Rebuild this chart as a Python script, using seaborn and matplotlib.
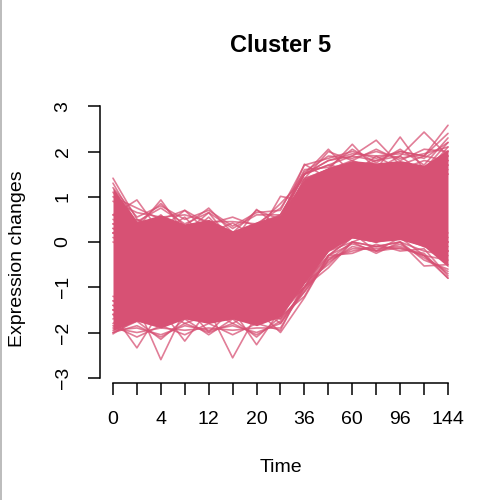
import matplotlib
matplotlib.use("Agg")
import matplotlib.pyplot as plt
from matplotlib.lines import Line2D
import pandas as pd
import numpy as np
import seaborn as sns

# time points (only every second label fits on the axis)
time_labels = ["0", "2", "4", "8", "12", "16", "20", "24",
               "36", "48", "60", "72", "96", "120", "144"]

# dense part of the cluster (solid band)
core_hi = [1.2, 0.45, 0.6, 0.4, 0.5, 0.25, 0.45, 0.6, 1.4, 1.65, 1.8, 1.75, 1.8, 1.7, 2.05]
core_lo = [-1.95, -1.75, -1.9, -1.7, -1.8, -1.7, -1.85, -1.65, -0.9, -0.2, 0.1, 0.0, 0.05, -0.1, -0.55]

# single profiles sticking out of the band
top_lines = [
    [1.41, 0.5, 0.2, 0.0, -0.1, -0.3, -0.2, 0.0, 0.8, 1.2, 1.4, 1.3, 1.5, 1.3, 1.6],
    [0.6, 0.93, 0.2, 0.55, 0.0, 0.1, -0.1, 0.3, 1.0, 1.4, 1.2, 1.5, 1.3, 1.4, 1.5],
    [0.4, 0.3, 0.93, 0.2, 0.65, 0.0, 0.3, 0.2, 1.1, 1.3, 1.5, 1.3, 1.5, 1.2, 1.7],
    [0.2, 0.5, 0.3, 0.70, 0.2, 0.42, 0.1, 0.4, 1.2, 1.5, 1.3, 1.6, 1.4, 1.6, 1.5],
    [0.5, 0.2, 0.6, 0.1, 0.55, 0.0, 0.72, 0.3, 1.3, 1.2, 1.6, 1.4, 1.7, 1.5, 1.9],
    [0.0, -0.2, 0.1, -0.1, 0.2, -0.2, 0.1, 1.01, 0.9, 1.3, 1.5, 1.4, 1.6, 1.4, 1.8],
    [0.3, 0.1, 0.4, 0.0, 0.3, 0.2, 0.2, 0.5, 1.72, 1.4, 1.6, 1.5, 1.7, 1.6, 2.0],
    [0.2, 0.0, 0.3, 0.1, 0.2, 0.0, 0.3, 0.6, 1.5, 2.05, 1.5, 1.9, 1.6, 1.8, 1.7],
    [0.1, -0.1, 0.2, 0.0, 0.1, -0.1, 0.2, 0.4, 1.4, 1.6, 2.16, 1.6, 1.9, 1.5, 2.1],
    [0.4, 0.2, 0.3, 0.1, 0.3, 0.0, 0.3, 0.5, 1.5, 1.7, 1.9, 2.25, 1.7, 1.9, 1.8],
    [0.3, 0.1, 0.2, 0.0, 0.2, 0.1, 0.2, 0.4, 1.4, 1.6, 1.8, 1.6, 2.32, 1.6, 2.2],
    [0.2, 0.0, 0.3, 0.1, 0.2, 0.0, 0.3, 0.5, 1.5, 1.7, 1.6, 1.8, 1.9, 2.43, 1.9],
    [0.6, 0.3, 0.5, 0.2, 0.4, 0.1, 0.4, 0.6, 1.5, 1.8, 1.9, 1.8, 2.0, 1.9, 2.58],
    # zigzag fringe along the upper edge
    [1.3, 0.4, 0.85, 0.35, 0.75, 0.2, 0.7, 0.5, 1.6, 1.65, 2.05, 1.75, 2.05, 1.7, 2.3],
    [1.0, 0.75, 0.5, 0.7, 0.4, 0.55, 0.35, 0.85, 1.4, 2.0, 1.8, 2.05, 1.8, 2.05, 2.0],
    [1.1, 0.45, 0.75, 0.4, 0.65, 0.3, 0.6, 0.6, 1.5, 1.8, 1.95, 1.9, 1.95, 1.85, 2.2],
    [0.9, 0.65, 0.55, 0.6, 0.45, 0.45, 0.4, 0.75, 1.55, 1.9, 1.85, 2.0, 1.85, 1.95, 2.1],
    [1.2, 0.55, 0.8, 0.5, 0.7, 0.35, 0.65, 0.7, 1.7, 1.85, 2.0, 1.85, 2.0, 1.9, 2.4],
]
bottom_lines = [
    [-2.03, -1.7, -1.5, -1.6, -1.4, -1.5, -1.4, -1.5, -0.7, -0.1, 0.2, 0.1, 0.3, 0.0, 0.2],
    [-1.6, -2.34, -1.5, -1.8, -1.6, -1.5, -1.7, -1.4, -0.8, -0.2, 0.1, 0.0, 0.2, -0.1, -0.2],
    [-1.7, -1.4, -2.6, -1.5, -1.7, -1.4, -1.6, -1.5, -0.9, 0.0, 0.2, 0.1, 0.2, 0.1, 0.0],
    [-1.5, -1.7, -1.5, -2.19, -1.5, -1.8, -1.5, -1.7, -0.8, -0.1, 0.1, 0.0, 0.3, 0.0, 0.1],
    [-1.8, -1.5, -1.8, -1.4, -1.99, -1.5, -1.7, -1.4, -0.7, 0.0, 0.3, 0.1, 0.2, 0.1, 0.0],
    [-1.4, -1.6, -1.5, -1.7, -1.5, -2.56, -1.6, -1.6, -0.9, -0.2, 0.0, 0.2, 0.1, 0.0, -0.1],
    [-1.6, -1.4, -1.7, -1.5, -1.6, -1.5, -2.27, -1.5, -1.0, -0.1, 0.2, 0.0, 0.2, 0.0, -0.2],
    [-1.5, -1.7, -1.4, -1.6, -1.4, -1.7, -1.5, -2.0, -1.23, -0.3, 0.1, 0.1, 0.2, 0.1, 0.0],
    [-1.3, -1.5, -1.6, -1.4, -1.6, -1.5, -1.4, -1.8, -1.0, -0.57, 0.0, -0.1, 0.0, -0.2, -0.3],
    [-1.2, -1.4, -1.3, -1.5, -1.4, -1.6, -1.3, -1.6, -0.9, -0.3, -0.04, -0.2, 0.1, -0.1, -0.2],
    [-1.3, -1.5, -1.4, -1.6, -1.5, -1.4, -1.5, -1.5, -1.0, -0.2, 0.2, -0.2, -0.13, -0.3, -0.4],
    [-1.4, -1.6, -1.5, -1.5, -1.6, -1.5, -1.6, -1.7, -1.1, -0.4, 0.0, -0.1, 0.0, -0.53, -0.5],
    [-1.5, -1.6, -1.7, -1.6, -1.5, -1.6, -1.5, -1.6, -1.0, -0.3, 0.1, 0.0, 0.1, -0.3, -0.8],
    # zigzag fringe along the lower edge
    [-2.0, -1.75, -2.15, -1.7, -2.05, -1.7, -2.1, -1.65, -1.2, -0.3, -0.25, -0.05, -0.2, -0.15, -0.75],
    [-1.85, -2.1, -1.85, -2.05, -1.8, -2.05, -1.8, -1.95, -0.9, -0.5, 0.0, -0.25, 0.0, -0.4, -0.6],
    [-1.95, -1.9, -2.05, -1.85, -1.95, -1.85, -2.0, -1.8, -1.1, -0.4, -0.15, -0.15, -0.1, -0.3, -0.7],
    [-1.9, -2.0, -1.9, -1.95, -1.9, -1.95, -1.9, -1.9, -1.0, -0.45, -0.1, -0.2, -0.05, -0.35, -0.65],
    [-2.0, -1.85, -2.1, -1.8, -2.0, -1.8, -2.05, -1.75, -1.05, -0.35, -0.2, -0.1, -0.15, -0.25, -0.8],
]

col = "#D75174"

sns.set_style("ticks")
plt.rcParams["font.family"] = ["Liberation Sans", "DejaVu Sans"]
plt.rcParams["text.color"] = "black"
plt.rcParams["xtick.color"] = "black"
plt.rcParams["ytick.color"] = "black"

rows = []
for k, prof in enumerate(top_lines + bottom_lines):
    for i, v in enumerate(prof):
        rows.append({"gene": k, "idx": i, "value": v})
df = pd.DataFrame(rows)

fig = plt.figure(figsize=(5, 5), dpi=100)
ax = fig.add_axes([0.2, 0.234, 0.7228, 0.5752])

idx = np.arange(len(time_labels))
ax.fill_between(idx, core_lo, core_hi, color=col, lw=0)
sns.lineplot(data=df, x="idx", y="value", units="gene", estimator=None,
             color=col, alpha=0.75, lw=1.2, ax=ax)

ax.set_xlim(-0.543, 14.56)
ax.set_ylim(-3.116, 3.24)
ax.set_xticks(idx)
ax.set_xticklabels([t if i % 2 == 0 else "" for i, t in enumerate(time_labels)])
ax.set_yticks([-3, -2, -1, 0, 1, 2, 3])
ax.set_yticklabels(["\u22123", "\u22122", "\u22121", "0", "1", "2", "3"],
                   rotation=90, va="center")
ax.set_xlabel("")
ax.set_ylabel("")

for s in ["top", "right"]:
    ax.spines[s].set_visible(False)
ax.spines["left"].set_bounds(-3, 3)
ax.spines["bottom"].set_bounds(0, 14)
for s in ["left", "bottom"]:
    ax.spines[s].set_linewidth(1.1)
    ax.spines[s].set_color("black")
ax.tick_params(length=8.5, width=1.1, colors="black", labelsize=14, pad=12)

fig.text(0.561, 0.908, "Cluster 5", ha="center", va="center",
         fontsize=17, fontweight="bold", color="black")
fig.text(0.561, 0.064, "Time", ha="center", va="center", fontsize=14, color="black")
fig.text(0.036, 0.482, "Expression changes", ha="center", va="center",
         rotation=90, fontsize=14, color="black")

# thin grey frame line on the left edge of the image
fig.add_artist(Line2D([0.001, 0.001], [0, 1], color="#b0b0b0", lw=1.2))

fig.savefig("out.png", dpi=100)
